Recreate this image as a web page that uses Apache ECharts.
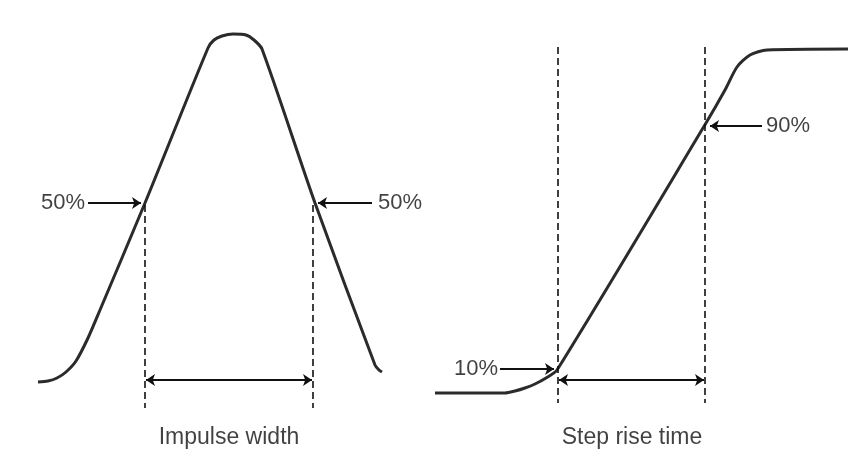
<!DOCTYPE html>
<html>
<head>
<meta charset="utf-8">
<script src="https://cdn.jsdelivr.net/npm/echarts@6/dist/echarts.min.js"></script>
<style>
  html, body { margin: 0; padding: 0; background: #fff; }
  #chart { width: 848px; height: 473px; }
</style>
</head>
<body>
<div id="chart"></div>
<script>
// drawing units: x to the right, y downward (0..848, 0..473)
const pulseX = [38, 48, 57, 66, 76, 88, 100, 145, 208, 214, 222, 233, 246, 254, 262, 315, 375, 379, 382];
const pulseY = [382, 381, 378, 372, 361, 338, 310, 203, 48, 40, 36, 34, 35, 40, 49, 203, 365, 370, 372];

const stepX = [435, 505, 515, 525, 535, 546, 557, 706, 725, 737, 750, 767, 848];
const stepY = [393, 393, 391, 388, 384, 378, 370, 123, 90, 67, 55, 50, 49];

// dashed guides at the measuring points
const guideX = [145, 313, 558, 705];
const guideTop = [205, 205, 47, 47];
const guideBottom = [408, 408, 403, 403];

// level pointers: label text, label centre, arrow from -> to
const levelText = ['50%', '50%', '90%', '10%'];
const levelLabelX = [63, 400, 788, 476];
const levelY = [203, 203, 126, 369];
const arrowFrom = [88, 372, 762, 500];
const arrowTo = [141, 318, 710, 554];

// width / rise-time spans
const spanStart = [146, 559];
const spanEnd = [312, 704];
const spanY = [380, 380];
const captions = ['Impulse width', 'Step rise time'];
const captionX = [229, 632];
const captionY = [438, 438];

const ink = '#2b2b2b';
const font = 'Liberation Sans';

let chart = echarts.init(document.getElementById('chart'));

let guideSeries = guideX.map(function (x, i) {
    return {
        type: 'line',
        data: [[x, guideTop[i]], [x, guideBottom[i]]],
        symbol: 'none',
        silent: true,
        lineStyle: { color: '#111', width: 1.6, type: [7, 4] }
    };
});

let option = {
    backgroundColor: '#fff',
    animation: false,
    grid: { left: 0, right: 0, top: 0, bottom: 0 },
    xAxis: { type: 'value', min: 0, max: 848, show: false },
    yAxis: { type: 'value', min: 0, max: 473, inverse: true, show: false },
    series: [
        {
            name: 'pulse',
            type: 'line',
            data: pulseX.map(function (x, i) { return [x, pulseY[i]]; }),
            smooth: 0.25,
            symbol: 'none',
            lineStyle: { color: ink, width: 3 }
        },
        {
            name: 'step',
            type: 'line',
            data: stepX.map(function (x, i) { return [x, stepY[i]]; }),
            smooth: 0.25,
            symbol: 'none',
            lineStyle: { color: ink, width: 3 }
        }
    ].concat(guideSeries).concat([
        {
            name: 'pointers',
            type: 'lines',
            coordinateSystem: 'cartesian2d',
            symbol: ['none', 'arrow'],
            symbolSize: 9,
            lineStyle: { color: '#111', width: 1.8, opacity: 1 },
            data: levelY.map(function (y, i) {
                return { coords: [[arrowFrom[i], y], [arrowTo[i], y]] };
            })
        },
        {
            name: 'spans',
            type: 'lines',
            coordinateSystem: 'cartesian2d',
            symbol: ['arrow', 'arrow'],
            symbolSize: 9,
            lineStyle: { color: '#111', width: 1.8, opacity: 1 },
            data: spanY.map(function (y, i) {
                return { coords: [[spanStart[i], y], [spanEnd[i], y]] };
            })
        },
        {
            name: 'labels',
            type: 'scatter',
            symbolSize: 0,
            silent: true,
            label: {
                show: true,
                position: 'inside',
                formatter: '{b}',
                color: '#111',
                fontFamily: font,
                fontSize: 22
            },
            data: levelText.map(function (t, i) {
                return { name: t, value: [levelLabelX[i], levelY[i]] };
            }).concat(captions.map(function (t, i) {
                return { name: t, value: [captionX[i], captionY[i]], label: { fontSize: 23 } };
            }))
        }
    ])
};

chart.setOption(option);
</script>
</body>
</html>
